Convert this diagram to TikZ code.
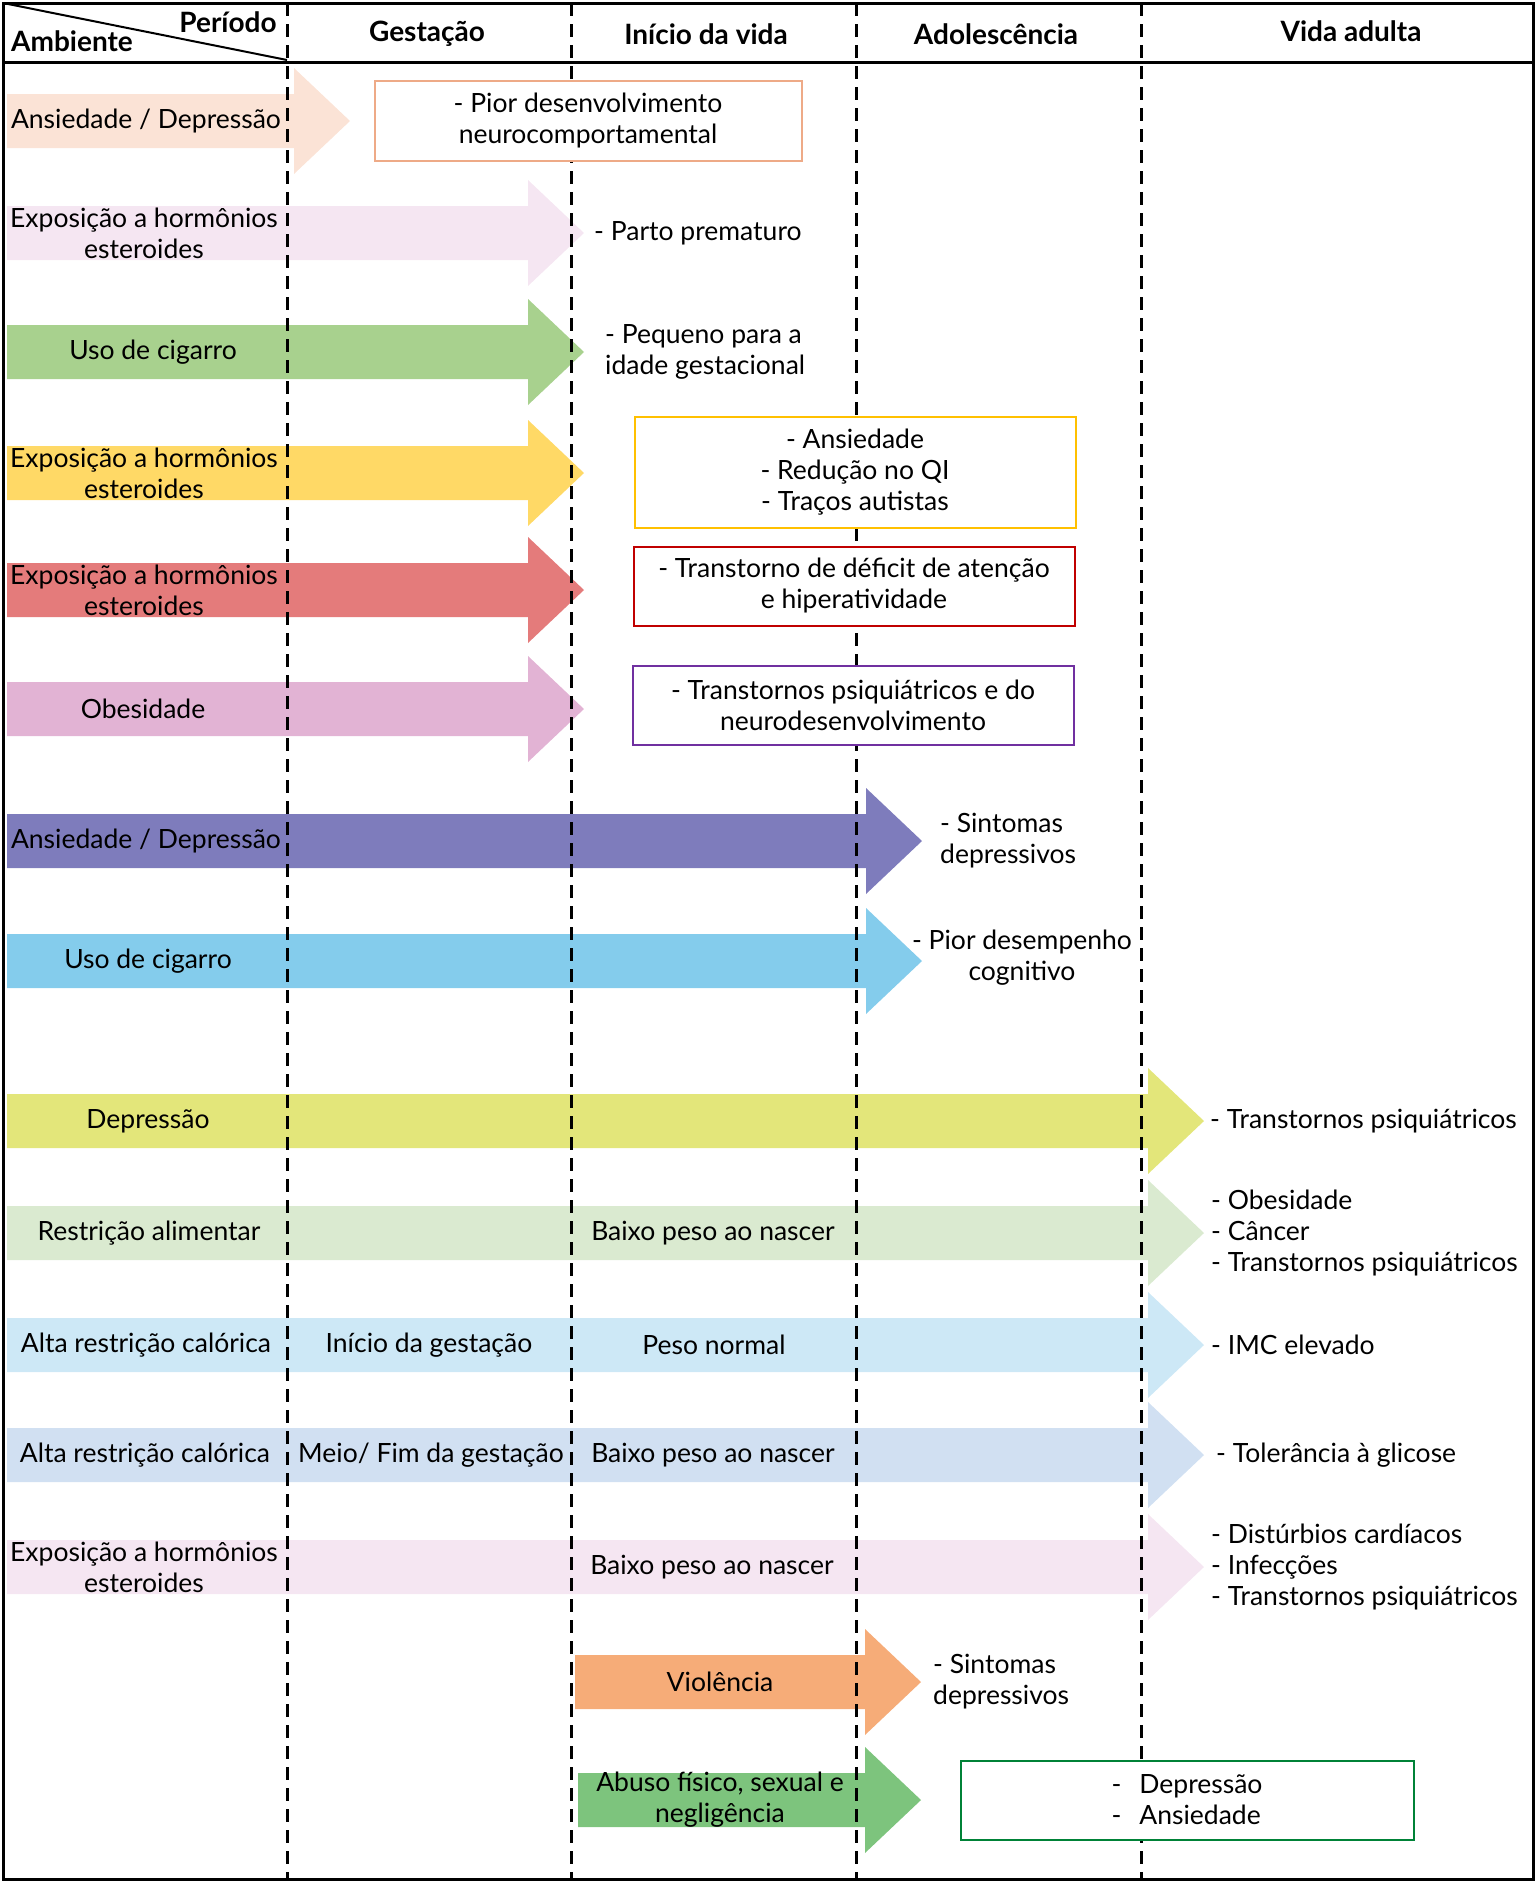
\documentclass[tikz,border=0pt]{standalone}
\usepackage{fontspec}
\setmainfont{Lato}
\usetikzlibrary{positioning}

\definecolor{pessego}{RGB}{251,227,214}
\definecolor{rosaclaro}{RGB}{245,230,242}
\definecolor{verdemedio}{RGB}{168,209,142}
\definecolor{amarelo}{RGB}{255,217,102}
\definecolor{vermelho}{RGB}{228,123,123}
\definecolor{malva}{RGB}{226,179,212}
\definecolor{roxo}{RGB}{126,124,188}
\definecolor{azul}{RGB}{132,204,236}
\definecolor{limao}{RGB}{227,230,122}
\definecolor{verdeclaro}{RGB}{218,234,208}
\definecolor{azulclaro}{RGB}{205,232,246}
\definecolor{azulcinza}{RGB}{209,224,242}
\definecolor{laranja}{RGB}{246,172,120}
\definecolor{verdeabuso}{RGB}{125,196,125}
\definecolor{bordapessego}{RGB}{238,170,135}
\definecolor{bordaouro}{RGB}{255,192,0}
\definecolor{bordavermelha}{RGB}{192,0,0}
\definecolor{bordaroxa}{RGB}{112,48,160}
\definecolor{bordaverde}{RGB}{0,130,55}

\tikzstyle{txt} = [font=\fontsize{26.5}{31}\selectfont, align=center, inner sep=0pt]
\tikzstyle{txtl} = [txt, align=left, anchor=west]
\tikzstyle{cab} = [font=\fontsize{28}{30}\bfseries\selectfont, inner sep=0pt]
\tikzstyle{caixa} = [rectangle, line width=2pt, fill=white, txt]
\tikzstyle{divisa} = [line width=3pt, dash pattern=on 13pt off 8pt]

% seta larga: nome, cor, x inicio, x ponta, y
\newcommand{\setalarga}[5]{%
\fill[#2] (#3,#5-27) -- (#4-56,#5-27) -- (#4-56,#5-53) -- (#4,#5)
 -- (#4-56,#5+53) -- (#4-56,#5+27) -- (#3,#5+27) -- cycle;
\coordinate (#1) at (#4,#5);}

\begin{document}
\begin{tikzpicture}[x=1pt, y=-1pt]
\useasboundingbox (0,0) rectangle (1536,1882);

% setas
\setalarga{p1}{pessego}{7}{350}{121}
\setalarga{p2}{rosaclaro}{7}{584}{233}
\setalarga{p3}{verdemedio}{7}{584}{352}
\setalarga{p4}{amarelo}{7}{584}{473}
\setalarga{p5}{vermelho}{7}{584}{590}
\setalarga{p6}{malva}{7}{584}{709}
\setalarga{p7}{roxo}{7}{922}{841}
\setalarga{p8}{azul}{7}{922}{961}
\setalarga{p9}{limao}{7}{1204}{1121}
\setalarga{p10}{verdeclaro}{7}{1204}{1233}
\setalarga{p11}{azulclaro}{7}{1204}{1345}
\setalarga{p12}{azulcinza}{7}{1204}{1455}
\setalarga{p13}{rosaclaro}{7}{1204}{1567}
\setalarga{p14}{laranja}{575}{921}{1682}
\setalarga{p15}{verdeabuso}{578}{921}{1800}

% moldura e periodos
\draw[line width=3pt] (3,3) rectangle (1533,1879);
\draw[line width=3pt] (3,62) -- (1533,62);
\draw[line width=2pt] (3,3) -- (287,60);
\foreach \x in {287,571,856,1141}
  \draw[divisa] (\x,3) -- (\x,1879);

\node(periodo)[cab] at (228,22) {Período};
\node(ambiente)[cab] at (72,41) {Ambiente};
\node(gestacao)[cab] at (427,34) {Gestação};
\node(inicio)[cab] at (706,34) {Início da vida};
\node(adolesc)[cab] at (996,34) {Adolescência};
\node(adulta)[cab] at (1351,31) {Vida adulta};

% ambiente
\node(amb1)[txt] at (146,121) {Ansiedade / Depressão};
\node(amb2)[txt] at (144,233) {Exposição a hormônios\\esteroides};
\node(amb3)[txt] at (153,352) {Uso de cigarro};
\node(amb4)[txt] at (144,473) {Exposição a hormônios\\esteroides};
\node(amb5)[txt] at (144,590) {Exposição a hormônios\\esteroides};
\node(amb6)[txt] at (143,709) {Obesidade};
\node(amb7)[txt] at (146,841) {Ansiedade / Depressão};
\node(amb8)[txt] at (148,961) {Uso de cigarro};
\node(amb9)[txt] at (148,1121) {Depressão};
\node(amb10)[txt] at (149,1233) {Restrição alimentar};
\node(amb11)[txt] at (146,1345) {Alta restrição calórica};
\node(amb12)[txt] at (145,1455) {Alta restrição calórica};
\node(amb13)[txt] at (144,1567) {Exposição a hormônios\\esteroides};
\node(amb14)[txt] at (720,1682) {Violência};
\node(amb15)[txt] at (720,1800) {Abuso físico, sexual e\\negligência};

% etapas intermediarias
\node(meio10)[txt] at (713,1233) {Baixo peso ao nascer};
\node(gest11)[txt] at (429,1345) {Início da gestação};
\node(meio11)[txt] at (714,1345) {Peso normal};
\node(gest12)[txt] at (431,1455) {Meio/ Fim da gestação};
\node(meio12)[txt] at (713,1455) {Baixo peso ao nascer};
\node(meio13)[txt] at (712,1567) {Baixo peso ao nascer};

% efeitos
\node(efeito1)[caixa, draw=bordapessego, minimum width=427, minimum height=80]
  at (588,121) {- Pior desenvolvimento\\neurocomportamental};
\node(efeito2)[txtl, right=10pt of p2] {- Parto prematuro};
\node(efeito3)[txtl, right=21pt of p3] {- Pequeno para a\\idade gestacional};
\node(efeito4)[caixa, draw=bordaouro, minimum width=441, minimum height=111]
  at (855,472) {- Ansiedade\\- Redução no QI\\- Traços autistas};
\node(efeito5)[caixa, draw=bordavermelha, minimum width=441, minimum height=79]
  at (854,586) {- Transtorno de déficit de atenção\\e hiperatividade};
\node(efeito6)[caixa, draw=bordaroxa, minimum width=441, minimum height=79]
  at (853,705) {- Transtornos psiquiátricos e do\\neurodesenvolvimento};
\node(efeito7)[txtl, right=18pt of p7] {- Sintomas\\depressivos};
\node(efeito8)[txt] at (1022,958) {- Pior desempenho\\cognitivo};
\node(efeito9)[txtl, right=6pt of p9] {- Transtornos psiquiátricos};
\node(efeito10)[txtl, right=7pt of p10] {- Obesidade\\- Câncer\\- Transtornos psiquiátricos};
\node(efeito11)[txtl, right=7pt of p11] {- IMC elevado};
\node(efeito12)[txtl, right=12pt of p12] {- Tolerância à glicose};
\node(efeito13)[txtl, right=7pt of p13] {- Distúrbios cardíacos\\- Infecções\\- Transtornos psiquiátricos};
\node(efeito14)[txtl, right=12pt of p14] {- Sintomas\\depressivos};
\node(efeito15)[caixa, draw=bordaverde, align=left, minimum width=453, minimum height=79]
  at (1187,1800) {-\hspace{18pt}Depressão\\-\hspace{18pt}Ansiedade};

\end{tikzpicture}
\end{document}
